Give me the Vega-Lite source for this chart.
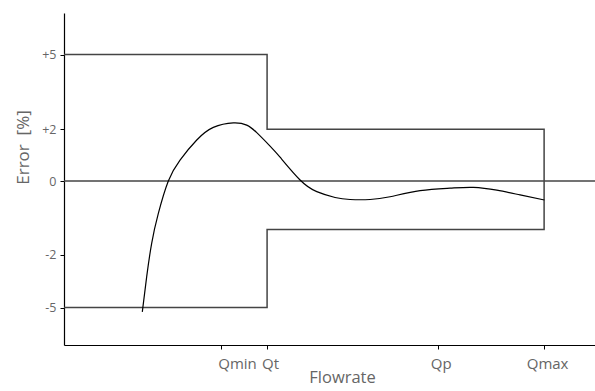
{
  "$schema": "https://vega.github.io/schema/vega-lite/v6.json",
  "width": 531,
  "height": 332,
  "autosize": {"type": "none"},
  "padding": {"left": 64, "top": 13, "right": 0, "bottom": 46},
  "background": "white",
  "config": {"view": {"stroke": null}},
  "datasets": {
    "envelope": [
      {"i": 0, "x": 0, "y": 5},
      {"i": 1, "x": 42.3, "y": 5},
      {"i": 2, "x": 42.3, "y": 2.05},
      {"i": 3, "x": 100, "y": 2.05},
      {"i": 4, "x": 100, "y": -1.92},
      {"i": 5, "x": 42.3, "y": -1.92},
      {"i": 6, "x": 42.3, "y": -5},
      {"i": 7, "x": 0, "y": -5}
    ],
    "zero": [
      {"x": 0, "y": 0},
      {"x": 110.6, "y": 0}
    ],
    "curve": [
      {"x": 16.31, "y": -5.17},
      {"x": 17.23, "y": -3.77},
      {"x": 18.27, "y": -2.45},
      {"x": 19.65, "y": -1.28},
      {"x": 21.73, "y": 0},
      {"x": 24.17, "y": 0.83},
      {"x": 27.65, "y": 1.62},
      {"x": 31.1, "y": 2.12},
      {"x": 35.27, "y": 2.3},
      {"x": 38.06, "y": 2.21},
      {"x": 40.15, "y": 1.91},
      {"x": 42.92, "y": 1.38},
      {"x": 45.0, "y": 0.94},
      {"x": 49.17, "y": 0.04},
      {"x": 52.65, "y": -0.42},
      {"x": 56.46, "y": -0.65},
      {"x": 59.58, "y": -0.73},
      {"x": 63.75, "y": -0.73},
      {"x": 67.92, "y": -0.62},
      {"x": 74.17, "y": -0.38},
      {"x": 80.42, "y": -0.28},
      {"x": 85.27, "y": -0.25},
      {"x": 90.15, "y": -0.36},
      {"x": 95.0, "y": -0.55},
      {"x": 100.06, "y": -0.75}
    ]
  },
  "encoding": {
    "x": {
      "field": "x", "type": "quantitative",
      "scale": {"domain": [0, 110.6], "nice": false, "zero": false},
      "axis": {
        "title": "Flowrate",
        "values": [32.7, 42.3, 77.85, 100],
        "labelExpr": "datum.value < 35 ? 'Qmin' : datum.value < 50 ? 'Qt' : datum.value < 90 ? 'Qp' : 'Qmax'",
        "labelOffset": {"condition": {"test": "datum.value < 35", "value": 16}, "value": 3},
        "grid": false,
        "domainColor": "black",
        "domainWidth": 1.2,
        "tickColor": "black",
        "tickSize": 4,
        "labelFont": "Open Sans",
        "labelFontSize": 15,
        "labelColor": "#666666",
        "labelPadding": 7,
        "labelFlush": false,
        "titleFont": "Open Sans",
        "titleFontSize": 16.5,
        "titleFontWeight": "normal",
        "titleColor": "#666666",
        "titlePadding": -2,
        "titleX": 278
      }
    },
    "y": {
      "field": "y", "type": "quantitative",
      "scale": {"domain": [-6.48, 6.64], "nice": false, "zero": false},
      "axis": {
        "title": "Error\u00a0\u00a0[%]",
        "values": [5, 2.05, 0, -2.92, -5],
        "labelExpr": "datum.value > 4 ? '+5' : datum.value > 1 ? '+2' : datum.value > -1 ? '0' : datum.value > -4 ? '-2' : '-5'",
        "grid": false,
        "domainColor": "black",
        "domainWidth": 1.2,
        "tickColor": "black",
        "tickSize": 4,
        "labelFont": "Open Sans",
        "labelFontSize": 12.5,
        "labelColor": "#666666",
        "labelPadding": 4,
        "labelFlush": false,
        "titleFont": "Open Sans",
        "titleFontSize": 17,
        "titleFontWeight": "normal",
        "titleColor": "#666666",
        "titlePadding": 9,
        "titleY": 134
      }
    }
  },
  "layer": [
    {
      "data": {"name": "zero"},
      "mark": {"type": "line", "color": "#444444", "strokeWidth": 1.3},
      "encoding": {}
    },
    {
      "data": {"name": "envelope"},
      "mark": {"type": "line", "color": "#444444", "strokeWidth": 1.5},
      "encoding": {"order": {"field": "i", "type": "quantitative"}}
    },
    {
      "data": {"name": "curve"},
      "mark": {"type": "line", "color": "black", "strokeWidth": 1.2, "interpolate": "natural"},
      "encoding": {}
    }
  ]
}
